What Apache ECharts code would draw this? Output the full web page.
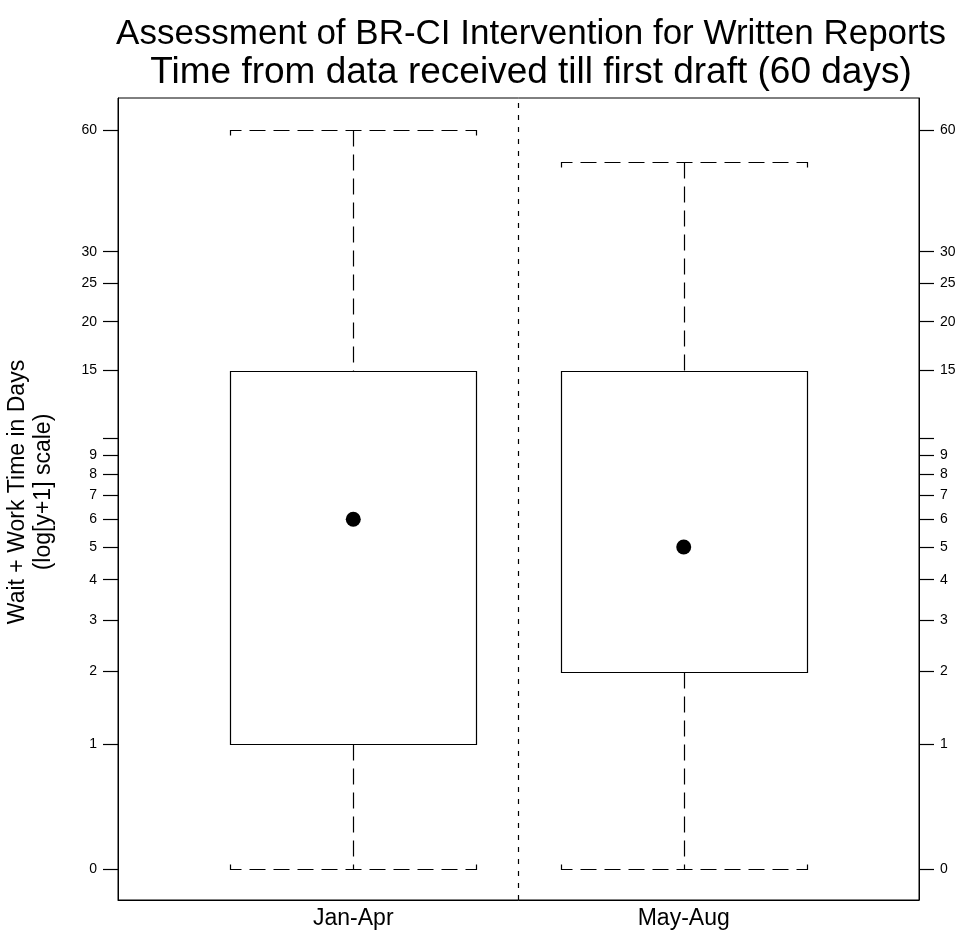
<!DOCTYPE html>
<html>
<head>
<meta charset="utf-8">
<title>BR-CI box plot</title>
<script src="https://cdn.jsdelivr.net/npm/echarts@6/dist/echarts.min.js"></script>
<style>
html, body { margin: 0; padding: 0; background: #fff; }
#chart { width: 961px; height: 944px; }
</style>
</head>
<body>
<div id="chart"></div>
<script>
// groups and five-number summaries (days)
var groups = ['Jan-Apr', 'May-Aug'];
var groupPos = [1, 2];
var mins = [0, 0];
var q1s = [1, 2];
var medians = [6, 5];
var q3s = [15, 15];
var maxs = [60, 50];

// y tick marks (days); 10 has a tick but no label
var tickValues = [0, 1, 2, 3, 4, 5, 6, 7, 8, 9, 10, 15, 20, 25, 30, 60];
var unlabeled = [10];

var fontName = '"Liberation Sans", Arial, Helvetica, sans-serif';
var boxHalf = 0.372;

// log(y+1) scale
function tf(v) { return Math.log(v + 1); }

var boxData = groupPos.map(function (p, i) {
    return [p, tf(mins[i]), tf(q1s[i]), tf(q3s[i]), tf(maxs[i])];
});
var medianData = groupPos.map(function (p, i) {
    return [p, tf(medians[i])];
});
var tickPos = tickValues.map(tf);

function tickLabel(v) {
    var n = Math.round(Math.exp(v) - 1);
    return unlabeled.indexOf(n) >= 0 ? '' : String(n);
}

function renderBox(params, api) {
    var x = api.value(0);
    var lo = api.coord([x - boxHalf, api.value(1)]);
    var hi = api.coord([x + boxHalf, api.value(1)]);
    var cMin = api.coord([x, api.value(1)]);
    var cQ1 = api.coord([x, api.value(2)]);
    var cQ3 = api.coord([x, api.value(3)]);
    var cMax = api.coord([x, api.value(4)]);
    var left = Math.round(lo[0]) + 0.5, right = Math.round(hi[0]) + 0.5;
    var cx = Math.round(cMin[0]) + 0.5;
    var yMin = Math.round(cMin[1]) + 0.5, yQ1 = Math.round(cQ1[1]) + 0.5;
    var yQ3 = Math.round(cQ3[1]) + 0.5, yMax = Math.round(cMax[1]) + 0.5;
    var dashed = { stroke: '#000', lineWidth: 1.2, lineDash: [16, 8], fill: null };
    return {
        type: 'group',
        children: [
            { type: 'rect', shape: { x: left, y: yQ3, width: right - left, height: yQ1 - yQ3 },
              style: { stroke: '#000', fill: '#fff', lineWidth: 1.2 } },
            { type: 'line', shape: { x1: cx, y1: yMax, x2: cx, y2: yQ3 }, style: dashed },
            { type: 'line', shape: { x1: cx, y1: yQ1, x2: cx, y2: yMin }, style: dashed },
            { type: 'polyline', shape: { points: [[left, yMax + 5], [left, yMax], [right, yMax], [right, yMax + 5]] }, style: dashed },
            { type: 'polyline', shape: { points: [[left, yMin - 5], [left, yMin], [right, yMin], [right, yMin - 5]] }, style: dashed }
        ]
    };
}

function yAxisOf(pos) {
    return {
        type: 'value',
        position: pos,
        min: -0.172,
        max: 4.289,
        axisLine: { show: true, onZero: false, lineStyle: { color: '#000', width: 1 } },
        axisTick: { show: true, customValues: tickPos, length: 15, inside: false, lineStyle: { color: '#000', width: 1.2 } },
        axisLabel: { show: true, customValues: tickPos, formatter: tickLabel, color: '#000',
                     fontSize: 14, fontFamily: fontName, margin: 21 },
        splitLine: { show: false }
    };
}

var option = {
    backgroundColor: '#fff',
    animation: false,
    grid: { left: 118, right: 42, top: 98, bottom: 44, show: true, borderColor: '#000', borderWidth: 1, backgroundColor: 'transparent' },
    graphic: [
        { type: 'text', x: 531, y: 34, style: { text: 'Assessment of BR-CI Intervention for Written Reports',
            font: '35px ' + fontName, fill: '#000', textAlign: 'center', textVerticalAlign: 'middle' } },
        { type: 'text', x: 531, y: 73, style: { text: 'Time from data received till first draft (60 days)',
            font: '37px ' + fontName, fill: '#000', textAlign: 'center', textVerticalAlign: 'middle' } },
        { type: 'text', x: 31, y: 492, rotation: Math.PI / 2,
          style: { text: 'Wait + Work Time in Days\n(log[y+1] scale)', font: '23px ' + fontName,
                   lineHeight: 26, fill: '#000', textAlign: 'center', textVerticalAlign: 'middle' } }
    ],
    xAxis: {
        type: 'value',
        min: 0.288,
        max: 2.712,
        axisLine: { show: true, onZero: false, lineStyle: { color: '#000' } },
        axisTick: { show: false },
        splitLine: { show: false },
        axisLabel: {
            customValues: groupPos,
            formatter: function (v) { return groups[groupPos.indexOf(Math.round(v))]; },
            color: '#000', fontSize: 23, fontFamily: fontName, margin: 7
        }
    },
    yAxis: [yAxisOf('left'), yAxisOf('right')],
    series: [
        {
            type: 'custom',
            renderItem: renderBox,
            data: boxData,
            silent: true,
            z: 2
        },
        {
            type: 'scatter',
            data: medianData,
            symbol: 'circle',
            symbolSize: 15,
            itemStyle: { color: '#000', opacity: 1 },
            silent: true,
            z: 3,
            markLine: {
                silent: true,
                symbol: 'none',
                label: { show: false },
                lineStyle: { color: '#000', type: [5, 7], width: 1.2 },
                data: [{ xAxis: 1.5 }]
            }
        }
    ]
};

var myChart = echarts.init(document.getElementById('chart'));
myChart.setOption(option);
</script>
</body>
</html>
